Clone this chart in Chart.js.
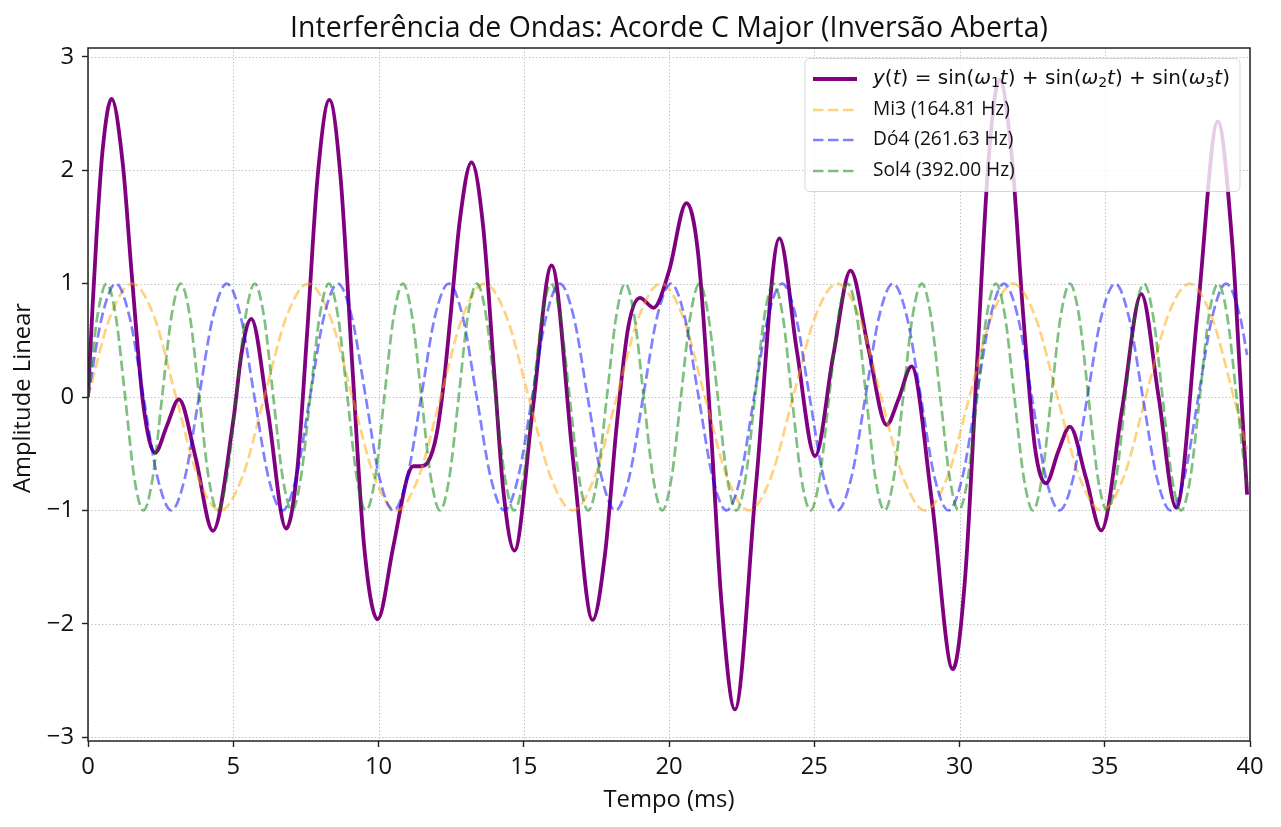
<!DOCTYPE html>
<html>
<head>
<meta charset="utf-8">
<script src="https://cdn.jsdelivr.net/npm/chart.js@4.4.1/dist/chart.umd.min.js"></script>
<style>
html,body{margin:0;padding:0;background:#fff;}
#wrap{width:1281px;height:827px;}
canvas{display:block;}
</style>
</head>
<body>
<div id="wrap"><canvas id="c" width="1281" height="827"></canvas></div>
<script>
// ---------------- data ----------------
const chartTitle = 'Interferência de Ondas: Acorde C Major (Inversão Aberta)';
const xAxisTitle = 'Tempo (ms)';
const yAxisTitle = 'Amplitude Linear';
const xTicks = [0, 5, 10, 15, 20, 25, 30, 35, 40];
const xTickLabels = ['0', '5', '10', '15', '20', '25', '30', '35', '40'];
const yTicks = [-3, -2, -1, 0, 1, 2, 3];
const yTickLabels = ['\u22123', '\u22122', '\u22121', '0', '1', '2', '3'];
const seriesLabels = ['Mi3 (164.81 Hz)', 'Dó4 (261.63 Hz)', 'Sol4 (392.00 Hz)'];

// resulting wave y(t): time (ms) and amplitude
const sumT = [0,0.15,0.3,0.5,0.81,1.2,1.5,1.9,2.31,2.72,3.13,3.7,4.3,5.0,5.3,5.62,6.2,6.82,7.2,7.55,7.9,8.31,8.7,9.1,9.5,9.97,10.5,11.0,11.2,11.45,11.7,12.0,12.25,12.5,12.8,13.2,13.6,14.0,14.3,14.68,15.3,15.96,16.7,17.37,17.8,18.2,18.6,19.0,19.47,20.0,20.6,21.0,21.45,21.8,22.27,23.0,23.8,24.4,25.03,25.65,26.25,26.87,27.49,27.9,28.35,29.05,29.77,30.2,30.6,31.0,31.38,31.8,32.2,32.6,32.98,33.4,33.8,34.35,34.88,35.6,36.26,36.85,37.46,38.2,38.89,39.4,39.65,39.9];
const sumV = [0,0.76,1.45,2.17,2.63,2.05,1.10,-0.06,-0.49,-0.25,-0.02,-0.53,-1.18,-0.21,0.41,0.69,-0.14,-1.16,-0.65,0.59,1.93,2.62,1.92,0.27,-1.30,-1.96,-1.33,-0.70,-0.61,-0.61,-0.575,-0.33,0.13,0.77,1.56,2.07,1.51,0.16,-0.83,-1.355,-0.13,1.16,-0.56,-1.965,-1.38,-0.25,0.62,0.875,0.787,1.11,1.71,1.27,-0.32,-1.79,-2.755,-0.76,1.40,0.41,-0.52,0.36,1.115,0.42,-0.245,-0.02,0.27,-0.92,-2.40,-1.57,0.28,2.09,2.80,2.12,0.70,-0.45,-0.76,-0.48,-0.26,-0.71,-1.175,-0.10,0.907,0.01,-0.976,0.76,2.43,1.32,0.23,-0.86];

// Mi3 component
const mi3T = [0,0.76,1.52,2.28,3.03,3.79,4.55,5.31,6.07,6.83,7.58,8.34,9.10,9.86,10.62,11.38,12.14,12.89,13.65,14.41,15.17,15.93,16.69,17.44,18.20,18.96,19.72,20.48,21.24,22.00,22.75,23.51,24.27,25.03,25.79,26.55,27.30,28.06,28.82,29.58,30.34,31.10,31.85,32.61,33.37,34.13,34.89,35.65,36.41,37.16,37.92,38.68,39.44,39.90];
const mi3V = [0,0.707,1,0.707,0,-0.707,-1,-0.707, 0,0.707,1,0.707,0,-0.707,-1,-0.707, 0,0.707,1,0.707,0,-0.707,-1,-0.707, 0,0.707,1,0.707,0,-0.707,-1,-0.707, 0,0.707,1,0.707,0,-0.707,-1,-0.707, 0,0.707,1,0.707,0,-0.707,-1,-0.707, 0,0.707,1,0.707,0,-0.46];

// Dó4 component
const doT = [0,0.48,0.96,1.43,1.91,2.39,2.87,3.34, 3.82,4.30,4.78,5.26,5.73,6.21,6.69,7.17, 7.64,8.12,8.60,9.08,9.56,10.03,10.51,10.99, 11.47,11.94,12.42,12.90,13.38,13.86,14.33,14.81, 15.29,15.77,16.24,16.72,17.20,17.68,18.16,18.63, 19.11,19.59,20.07,20.54,21.02,21.50,21.98,22.46, 22.93,23.41,23.89,24.37,24.84,25.32,25.80,26.28, 26.76,27.23,27.71,28.19,28.67,29.14,29.62,30.10, 30.58,31.06,31.53,32.01,32.49,32.97,33.44,33.92, 34.40,34.88,35.36,35.83,36.31,36.79,37.27,37.74, 38.22,38.70,39.18,39.66,39.90];
const doV = [0,0.707,1,0.707,0,-0.707,-1,-0.707, 0,0.707,1,0.707,0,-0.707,-1,-0.707, 0,0.707,1,0.707,0,-0.707,-1,-0.707, 0,0.707,1,0.707,0,-0.707,-1,-0.707, 0,0.707,1,0.707,0,-0.707,-1,-0.707, 0,0.707,1,0.707,0,-0.707,-1,-0.707, 0,0.707,1,0.707,0,-0.707,-1,-0.707, 0,0.707,1,0.707,0,-0.707,-1,-0.707, 0,0.707,1,0.707,0,-0.707,-1,-0.707, 0,0.707,1,0.707,0,-0.707,-1,-0.707, 0,0.707,1,0.707,0.37];

// Sol4 component
const solT = [0,0.32,0.64,0.96,1.28,1.59,1.91,2.23, 2.55,2.87,3.19,3.51,3.83,4.15,4.46,4.78, 5.10,5.42,5.74,6.06,6.38,6.70,7.02,7.33, 7.65,7.97,8.29,8.61,8.93,9.25,9.57,9.89, 10.20,10.52,10.84,11.16,11.48,11.80,12.12,12.44, 12.76,13.07,13.39,13.71,14.03,14.35,14.67,14.99, 15.31,15.63,15.94,16.26,16.58,16.90,17.22,17.54, 17.86,18.18,18.49,18.81,19.13,19.45,19.77,20.09, 20.41,20.73,21.05,21.36,21.68,22.00,22.32,22.64, 22.96,23.28,23.60,23.92,24.23,24.55,24.87,25.19, 25.51,25.83,26.15,26.47,26.79,27.10,27.42,27.74, 28.06,28.38,28.70,29.02,29.34,29.66,29.97,30.29, 30.61,30.93,31.25,31.57,31.89,32.21,32.53,32.84, 33.16,33.48,33.80,34.12,34.44,34.76,35.08,35.40, 35.71,36.03,36.35,36.67,36.99,37.31,37.63,37.95, 38.27,38.58,38.90,39.22,39.54,39.86,39.90];
const solV = [0,0.707,1,0.707,0,-0.707,-1,-0.707, 0,0.707,1,0.707,0,-0.707,-1,-0.707, 0,0.707,1,0.707,0,-0.707,-1,-0.707, 0,0.707,1,0.707,0,-0.707,-1,-0.707, 0,0.707,1,0.707,0,-0.707,-1,-0.707, 0,0.707,1,0.707,0,-0.707,-1,-0.707, 0,0.707,1,0.707,0,-0.707,-1,-0.707, 0,0.707,1,0.707,0,-0.707,-1,-0.707, 0,0.707,1,0.707,0,-0.707,-1,-0.707, 0,0.707,1,0.707,0,-0.707,-1,-0.707, 0,0.707,1,0.707,0,-0.707,-1,-0.707, 0,0.707,1,0.707,0,-0.707,-1,-0.707, 0,0.707,1,0.707,0,-0.707,-1,-0.707, 0,0.707,1,0.707,0,-0.707,-1,-0.707, 0,0.707,1,0.707,0,-0.707,-1,-0.707, 0,0.707,1,0.707,0,-0.707,-0.77];

// legend formula text (mathtext-like): [text, kind] i=italic r=roman s=subscript
const formulaParts = [['y','i'],['(','r'],['t','i'],[')','r'],[' = ','r'],['sin','r'],['(','r'],['ω','i'],['1','s'],['t','i'],[')','r'],[' + ','r'],['sin','r'],['(','r'],['ω','i'],['2','s'],['t','i'],[')','r'],[' + ','r'],['sin','r'],['(','r'],['ω','i'],['3','s'],['t','i'],[')','r']];

// ---------------- styling ----------------
const FAMILY = '"Open Sans"';
const MATHFAM = '"DejaVu Sans"';
const measureCtx = document.createElement('canvas').getContext('2d');
function fitSize(text, target, family, style) {
  measureCtx.font = (style || '') + ' 100px ' + family;
  return 100 * target / measureCtx.measureText(text).width;
}
const titleSize = fitSize(chartTitle, 758, FAMILY);
const labelSize = fitSize(xAxisTitle, 131, FAMILY);
const tickSize = labelSize;
const legendSize = fitSize(seriesLabels[0], 137, FAMILY);
function formulaWidth(size) {
  let w = 0;
  formulaParts.forEach(([t, k]) => {
    const s = k === 's' ? size * 0.7 : size;
    measureCtx.font = (k === 'i' ? 'italic ' : '') + s + 'px ' + MATHFAM;
    w += measureCtx.measureText(t).width;
  });
  return w;
}
const formulaSize = 100 * 357 / formulaWidth(100);

const purple = '#800080';
const dash = [10.5, 4.5];
const colMi = 'rgba(255,165,0,0.5)';
const colDo = 'rgba(0,0,255,0.5)';
const colSol = 'rgba(0,128,0,0.5)';

const toPts = (T, V) => T.map((t, i) => ({x: t, y: V[i]}));

const decor = {
  id: 'decor',
  beforeDatasetsDraw(chart) {
    const {ctx, chartArea: a, scales: {x, y}} = chart;
    ctx.save();
    ctx.strokeStyle = 'rgba(176,176,176,0.85)';
    ctx.lineWidth = 1;
    ctx.setLineDash([1.3, 2.2]);
    xTicks.forEach(v => {
      const px = Math.round(x.getPixelForValue(v)) + 0.5;
      ctx.beginPath(); ctx.moveTo(px, a.top); ctx.lineTo(px, a.bottom); ctx.stroke();
    });
    yTicks.forEach(v => {
      const py = Math.round(y.getPixelForValue(v)) + 0.5;
      ctx.beginPath(); ctx.moveTo(a.left, py); ctx.lineTo(a.right, py); ctx.stroke();
    });
    ctx.restore();
  },
  afterDatasetsDraw(chart) {
    const {ctx, chartArea: a} = chart;
    ctx.save();
    ctx.strokeStyle = '#222';
    ctx.lineWidth = 1.5;
    ctx.strokeRect(a.left, a.top, a.right - a.left, a.bottom - a.top);
    const L = {x: 805, y: 58.5, w: 435, h: 133, r: 5};
    ctx.beginPath();
    ctx.roundRect(L.x, L.y, L.w, L.h, L.r);
    ctx.fillStyle = 'rgba(255,255,255,0.8)';
    ctx.fill();
    ctx.strokeStyle = 'rgba(204,204,204,0.8)';
    ctx.lineWidth = 1;
    ctx.stroke();
    const rows = [79, 110, 140, 171];
    const cols = [purple, colMi, colDo, colSol];
    rows.forEach((ry, i) => {
      ctx.beginPath();
      ctx.setLineDash(i === 0 ? [] : dash);
      ctx.strokeStyle = cols[i];
      ctx.lineWidth = i === 0 ? 3.8 : 2.7;
      ctx.moveTo(813, ry); ctx.lineTo(857, ry); ctx.stroke();
    });
    ctx.setLineDash([]);
    ctx.fillStyle = '#111';
    ctx.textBaseline = 'middle';
    ctx.textAlign = 'left';
    let fx = 873;
    formulaParts.forEach(([t, k]) => {
      const s = k === 's' ? formulaSize * 0.7 : formulaSize;
      ctx.font = (k === 'i' ? 'italic ' : '') + s + 'px ' + MATHFAM;
      ctx.fillText(t, fx, rows[0] + (k === 's' ? formulaSize * 0.22 : 0));
      fx += ctx.measureText(t).width;
    });
    ctx.font = legendSize + 'px ' + FAMILY;
    seriesLabels.forEach((lab, i) => ctx.fillText(lab, 873, rows[i + 1]));
    ctx.restore();
  },
  afterDraw(chart) {
    const {ctx, chartArea: a} = chart;
    ctx.save();
    ctx.fillStyle = '#111';
    ctx.textAlign = 'center';
    ctx.textBaseline = 'alphabetic';
    ctx.font = titleSize + 'px ' + FAMILY;
    ctx.fillText(chartTitle, (a.left + a.right) / 2, 36.5);
    ctx.font = labelSize + 'px ' + FAMILY;
    ctx.textBaseline = 'middle';
    ctx.fillText(xAxisTitle, (a.left + a.right) / 2, 800);
    ctx.translate(23, 398);
    ctx.rotate(-Math.PI / 2);
    ctx.fillText(yAxisTitle, 0, 0);
    ctx.restore();
  }
};

new Chart(document.getElementById('c'), {
  type: 'line',
  data: {
    datasets: [
      {label: 'y(t)', data: toPts(sumT, sumV), borderColor: purple, borderWidth: 3.8,
       pointRadius: 0, cubicInterpolationMode: 'monotone', order: 3, borderJoinStyle: 'round'},
      {label: seriesLabels[0], data: toPts(mi3T, mi3V), borderColor: colMi, borderWidth: 2.7, borderDash: dash,
       pointRadius: 0, cubicInterpolationMode: 'monotone', order: 2},
      {label: seriesLabels[1], data: toPts(doT, doV), borderColor: colDo, borderWidth: 2.7, borderDash: dash,
       pointRadius: 0, cubicInterpolationMode: 'monotone', order: 1},
      {label: seriesLabels[2], data: toPts(solT, solV), borderColor: colSol, borderWidth: 2.7, borderDash: dash,
       pointRadius: 0, cubicInterpolationMode: 'monotone', order: 0}
    ]
  },
  options: {
    responsive: false,
    animation: false,
    devicePixelRatio: 1,
    events: [],
    layout: {padding: {left: 0, right: 31, top: 48, bottom: 0}},
    plugins: {legend: {display: false}, tooltip: {enabled: false}, title: {display: false}},
    scales: {
      x: {
        type: 'linear', min: 0, max: 40,
        afterBuildTicks: s => { s.ticks = xTicks.map(v => ({value: v})); },
        afterFit: s => { s.height = 86; },
        ticks: {callback: (v, i) => xTickLabels[i], font: {family: FAMILY, size: tickSize}, color: '#111', padding: 6, maxRotation: 0, autoSkip: false},
        grid: {drawOnChartArea: false, drawTicks: true, tickLength: 6, tickWidth: 1.4, tickColor: '#222'},
        border: {display: false}
      },
      y: {
        type: 'linear', min: -3.033, max: 3.078,
        afterBuildTicks: s => { s.ticks = yTicks.map(v => ({value: v})); },
        afterFit: s => { s.width = 88; },
        ticks: {callback: (v, i) => yTickLabels[i], font: {family: FAMILY, size: tickSize}, color: '#111', padding: 8, autoSkip: false},
        grid: {drawOnChartArea: false, drawTicks: true, tickLength: 6, tickWidth: 1.4, tickColor: '#222'},
        border: {display: false}
      }
    }
  },
  plugins: [decor]
});
</script>
</body>
</html>
